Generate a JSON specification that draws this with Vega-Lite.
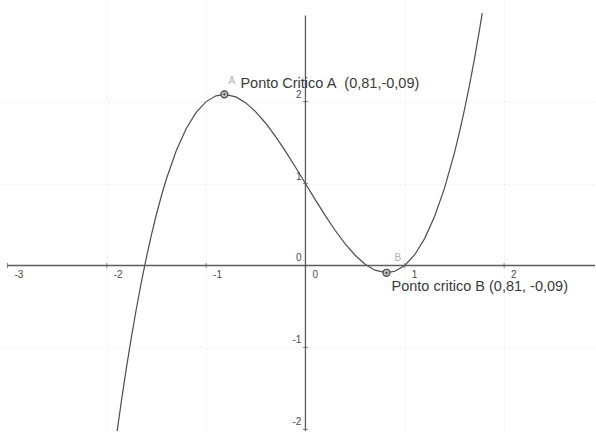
{
  "$schema": "https://vega.github.io/schema/vega-lite/v6.json",
  "width": 596,
  "height": 432,
  "autosize": {"type": "fit", "contains": "padding"},
  "padding": 0,
  "background": "#ffffff",
  "config": {"view": {"stroke": null}, "font": "Liberation Sans"},
  "datasets": {
    "curve": [
      {"x": -1.95, "y": -2.515}, {"x": -1.9, "y": -2.059}, {"x": -1.85, "y": -1.632},
      {"x": -1.8, "y": -1.232}, {"x": -1.75, "y": -0.859}, {"x": -1.7, "y": -0.513},
      {"x": -1.65, "y": -0.192}, {"x": -1.6, "y": 0.104}, {"x": -1.55, "y": 0.376},
      {"x": -1.5, "y": 0.625}, {"x": -1.45, "y": 0.851}, {"x": -1.4, "y": 1.056},
      {"x": -1.3, "y": 1.403}, {"x": -1.2, "y": 1.672}, {"x": -1.1, "y": 1.869},
      {"x": -1.0, "y": 2.0}, {"x": -0.9, "y": 2.071}, {"x": -0.816, "y": 2.089},
      {"x": -0.7, "y": 2.057}, {"x": -0.6, "y": 1.984}, {"x": -0.5, "y": 1.875},
      {"x": -0.4, "y": 1.736}, {"x": -0.3, "y": 1.573}, {"x": -0.2, "y": 1.392},
      {"x": -0.1, "y": 1.199}, {"x": 0.0, "y": 1.0}, {"x": 0.1, "y": 0.801},
      {"x": 0.2, "y": 0.608}, {"x": 0.3, "y": 0.427}, {"x": 0.4, "y": 0.264},
      {"x": 0.5, "y": 0.125}, {"x": 0.6, "y": 0.016}, {"x": 0.7, "y": -0.057},
      {"x": 0.816, "y": -0.089}, {"x": 0.9, "y": -0.071}, {"x": 1.0, "y": 0.0},
      {"x": 1.1, "y": 0.131}, {"x": 1.2, "y": 0.328}, {"x": 1.3, "y": 0.597},
      {"x": 1.4, "y": 0.944}, {"x": 1.5, "y": 1.375}, {"x": 1.55, "y": 1.624},
      {"x": 1.6, "y": 1.896}, {"x": 1.65, "y": 2.192}, {"x": 1.7, "y": 2.513},
      {"x": 1.75, "y": 2.859}, {"x": 1.78, "y": 3.08}
    ],
    "critical": [
      {"x": -0.816, "y": 2.089, "name": "A", "label": "Ponto Critico A\u00a0 (0,81,-0,09)"},
      {"x": 0.816, "y": -0.089, "name": "B", "label": "Ponto critico B (0,81, -0,09)"}
    ],
    "xticks": [
      {"v": -3, "t": "-3"}, {"v": -2, "t": "-2"}, {"v": -1, "t": "-1"},
      {"v": 0, "t": "0"}, {"v": 1, "t": "1"}, {"v": 2, "t": "2"}
    ],
    "yticks": [
      {"v": -2, "t": "-2"}, {"v": -1, "t": "-1"}, {"v": 0, "t": "0"},
      {"v": 1, "t": "1"}, {"v": 2, "t": "2"}
    ]
  },
  "layer": [
    {
      "data": {"name": "curve"},
      "mark": {"type": "line", "color": "#4d4d4d", "strokeWidth": 1.2, "clip": true},
      "encoding": {
        "x": {
          "field": "x", "type": "quantitative",
          "scale": {"domain": [-3.075, 2.915], "nice": false, "zero": false},
          "axis": {"title": null, "labels": false, "ticks": false, "domain": false, "grid": true,
                   "values": [-2, -1, 1, 2], "gridColor": "#e0e0e0", "gridDash": [1, 3], "gridWidth": 1}
        },
        "y": {
          "field": "y", "type": "quantitative",
          "scale": {"domain": [-2.02, 3.24], "nice": false, "zero": false},
          "axis": {"title": null, "labels": false, "ticks": false, "domain": false, "grid": true,
                   "values": [-1, 1, 2], "gridColor": "#e0e0e0", "gridDash": [1, 3], "gridWidth": 1}
        }
      }
    },
    {
      "data": {"values": [{}]},
      "mark": {"type": "rule", "color": "#5c5c5c", "strokeWidth": 1.3},
      "encoding": {"x": {"datum": -3}, "x2": {"datum": 2.915}, "y": {"datum": 0}}
    },
    {
      "data": {"values": [{}]},
      "mark": {"type": "rule", "color": "#5c5c5c", "strokeWidth": 1.3},
      "encoding": {"x": {"datum": 0}, "y": {"datum": -2.02}, "y2": {"datum": 3.05}}
    },
    {
      "data": {"name": "xticks"},
      "mark": {"type": "tick", "orient": "vertical", "size": 5, "thickness": 1, "color": "#555555"},
      "encoding": {"x": {"field": "v", "type": "quantitative"}, "y": {"datum": 0}}
    },
    {
      "data": {"name": "yticks"},
      "mark": {"type": "tick", "orient": "horizontal", "size": 5, "thickness": 1, "color": "#555555"},
      "encoding": {"x": {"datum": 0}, "y": {"field": "v", "type": "quantitative"}}
    },
    {
      "data": {"name": "xticks"},
      "mark": {"type": "text", "align": "left", "baseline": "middle", "dx": 7, "dy": 10, "fontSize": 10, "color": "#4a4a4a"},
      "encoding": {"x": {"field": "v", "type": "quantitative"}, "y": {"datum": 0}, "text": {"field": "t"}}
    },
    {
      "data": {"name": "yticks"},
      "mark": {"type": "text", "align": "right", "baseline": "middle", "dx": -4, "dy": -7, "fontSize": 10, "color": "#4a4a4a"},
      "encoding": {"x": {"datum": 0}, "y": {"field": "v", "type": "quantitative"}, "text": {"field": "t"}}
    },
    {
      "data": {"name": "critical"},
      "mark": {"type": "point", "shape": "circle", "size": 50, "filled": false, "fill": "#b9bcc6", "fillOpacity": 1, "stroke": "#454545", "strokeWidth": 1.2},
      "encoding": {"x": {"field": "x", "type": "quantitative"}, "y": {"field": "y", "type": "quantitative"}}
    },
    {
      "data": {"name": "critical"},
      "mark": {"type": "point", "shape": "circle", "size": 5, "filled": true, "color": "#454545", "opacity": 1},
      "encoding": {"x": {"field": "x", "type": "quantitative"}, "y": {"field": "y", "type": "quantitative"}}
    },
    {
      "data": {"name": "critical"},
      "transform": [{"filter": "datum.name === 'A'"}],
      "layer": [
        {
          "mark": {"type": "text", "align": "left", "baseline": "middle", "dx": 16, "dy": -10, "fontSize": 14.5, "color": "#3a3a3a"},
          "encoding": {"x": {"field": "x", "type": "quantitative"}, "y": {"field": "y", "type": "quantitative"}, "text": {"field": "label"}}
        },
        {
          "mark": {"type": "text", "align": "left", "baseline": "middle", "dx": 4, "dy": -13, "fontSize": 10, "color": "#b0b0b0"},
          "encoding": {"x": {"field": "x", "type": "quantitative"}, "y": {"field": "y", "type": "quantitative"}, "text": {"field": "name"}}
        }
      ]
    },
    {
      "data": {"name": "critical"},
      "transform": [{"filter": "datum.name === 'B'"}],
      "layer": [
        {
          "mark": {"type": "text", "align": "left", "baseline": "middle", "dx": 5, "dy": 14, "fontSize": 14.5, "color": "#3a3a3a"},
          "encoding": {"x": {"field": "x", "type": "quantitative"}, "y": {"field": "y", "type": "quantitative"}, "text": {"field": "label"}}
        },
        {
          "mark": {"type": "text", "align": "left", "baseline": "middle", "dx": 8, "dy": -15, "fontSize": 10, "color": "#b0b0b0"},
          "encoding": {"x": {"field": "x", "type": "quantitative"}, "y": {"field": "y", "type": "quantitative"}, "text": {"field": "name"}}
        }
      ]
    }
  ]
}
